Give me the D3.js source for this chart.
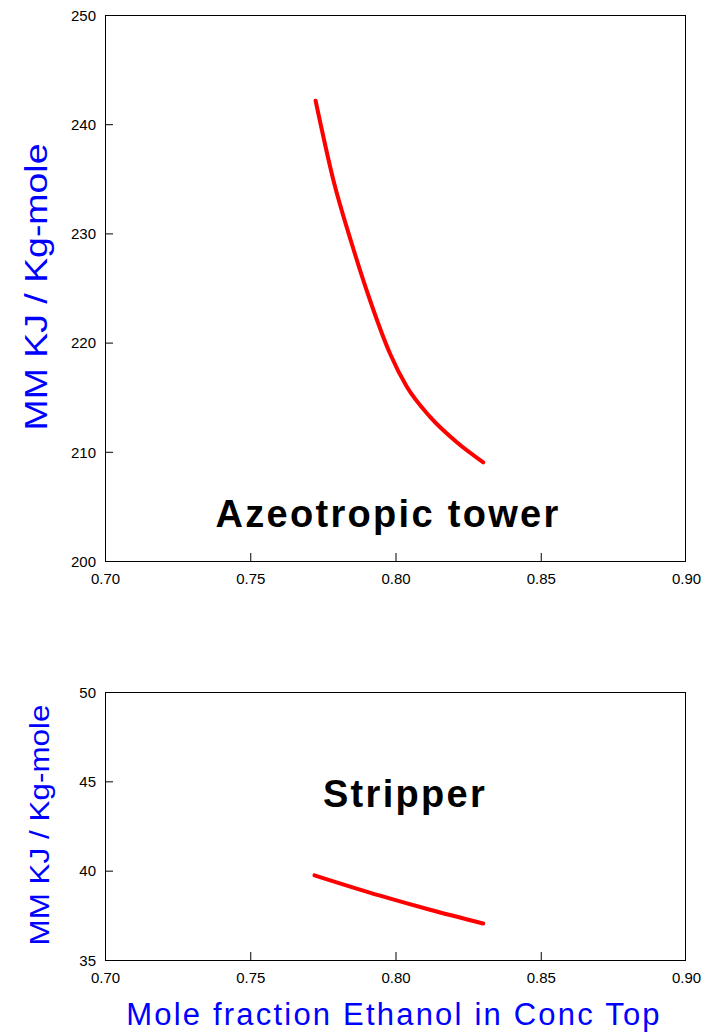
<!DOCTYPE html>
<meta charset="utf-8">
<style>
body { margin: 0; background: #fff; }
svg { font-family: Arial, "Liberation Sans", sans-serif; }
.tick text { font-size: 15px; fill: #000; }
.frame { fill: none; stroke: #000; stroke-width: 1; }
.ylab, .xlab { fill: #0000ff; }
.note { font-weight: bold; font-size: 38px; fill: #000; letter-spacing: 2.3px; }
</style>
<body>
<script src="https://cdn.jsdelivr.net/npm/d3@7"></script>
<script>

// azeotropic tower curve
var azeoX = [0.7725, 0.7786, 0.7849, 0.7912, 0.7981, 0.8038, 0.8119, 0.8210, 0.8302];
var azeoY = [242.15, 234.9, 229.1, 223.9, 219.0, 216.0, 213.2, 210.9, 209.04];

// stripper curve
var stripX = [0.7721, 0.7947, 0.8119, 0.8302];
var stripY = [39.74, 38.6, 37.81, 37.04];

var xTicks = [0.70, 0.75, 0.80, 0.85, 0.90];
var azeoTicks = [200, 210, 220, 230, 240, 250];
var stripTicks = [35, 40, 45, 50];

var W = 707, H = 1032;
var svg = d3.select("body").append("svg").attr("width", W).attr("height", H);

function panel(top, bottom, ydom, yticks, xs, ys, label, lx, ly, ylab){
  var x = d3.scaleLinear().domain([0.70, 0.90]).range([105, 686]);
  var y = d3.scaleLinear().domain(ydom).range([bottom, top]);
  var g = svg.append("g");

  g.append("g").attr("transform", "translate(0," + bottom + ")")
    .call(d3.axisBottom(x).tickValues(xTicks).tickFormat(d3.format(".2f")).tickSizeInner(-8).tickSizeOuter(0).tickPadding(12))
    .call(a => a.select(".domain").remove())
    .call(a => a.selectAll(".tick line").attr("stroke", "#000"))
    .call(a => a.selectAll(".tick").filter(d => d == 0.70 || d == 0.90).select("line").remove());

  g.append("g").attr("transform", "translate(105,0)")
    .call(d3.axisLeft(y).tickValues(yticks).tickSizeInner(-8).tickSizeOuter(0).tickPadding(9))
    .call(a => a.select(".domain").remove())
    .call(a => a.selectAll(".tick text").attr("dy", "0.35em"))
    .call(a => a.selectAll(".tick").filter(d => d == ydom[0] || d == ydom[1]).select("line").remove());

  g.append("rect").attr("class", "frame")
    .attr("x", 105.5).attr("y", top + 0.5)
    .attr("width", 580).attr("height", bottom - top);

  var line = d3.line().x((d, i) => x(xs[i])).y(d => y(d)).curve(d3.curveMonotoneX);
  g.append("path").datum(ys)
    .attr("d", line)
    .attr("fill", "none").attr("stroke", "#ff0000").attr("stroke-width", 4)
    .attr("stroke-linecap", "round");

  g.append("text").attr("class", "note").attr("x", lx).attr("y", ly)
    .attr("text-anchor", "middle").text(label);

  g.append("text").attr("class", "ylab")
    .attr("transform", "translate(" + ylab.x + "," + ylab.y + ") rotate(-90)")
    .attr("text-anchor", "middle")
    .style("font-size", ylab.size + "px")
    .attr("textLength", ylab.len).attr("lengthAdjust", "spacingAndGlyphs")
    .text("MM KJ / Kg-mole");
}

panel(15, 561, [200, 250], azeoTicks, azeoX, azeoY, "Azeotropic tower", 388, 527,
  {x: 47, y: 287, size: 32, len: 287});
panel(692, 960, [35, 50], stripTicks, stripX, stripY, "Stripper", 405, 807,
  {x: 49, y: 825, size: 28, len: 241});

svg.append("text").attr("class", "xlab")
  .attr("x", 394).attr("y", 1025).attr("text-anchor", "middle")
  .style("font-size", "31px")
  .style("letter-spacing", "2.2px")
  .text("Mole fraction Ethanol in Conc Top");

</script>
</body>
